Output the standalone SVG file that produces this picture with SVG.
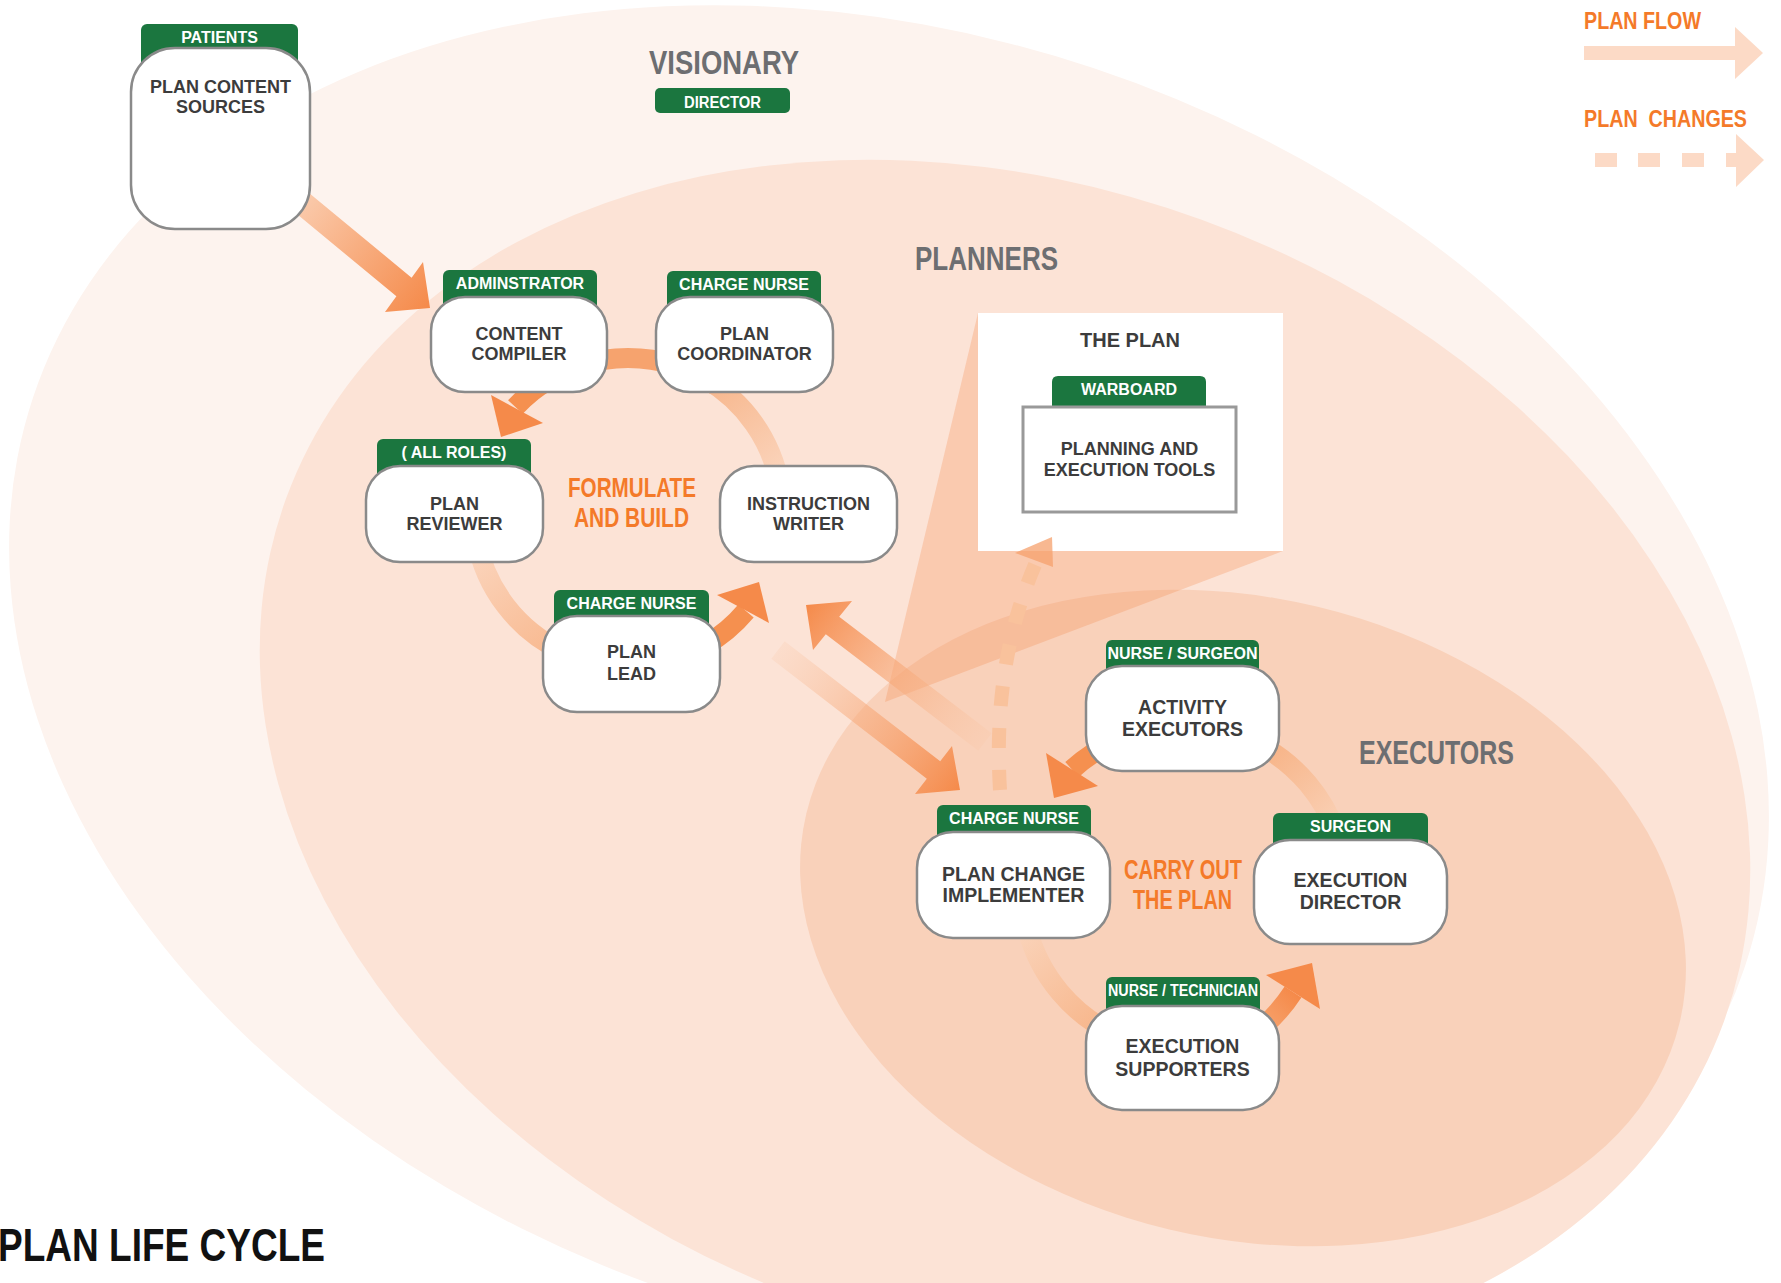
<svg xmlns="http://www.w3.org/2000/svg" width="1781" height="1283" viewBox="0 0 1781 1283">
<defs>
<style>
.tab{fill:#1b763f}
.box{fill:#fff;stroke:#8a8a8a;stroke-width:2.5}
.tt{font-family:'Liberation Sans',Arial,sans-serif;font-weight:bold;font-size:16px;fill:#fff;text-anchor:middle}
.nt{font-family:'Liberation Sans',Arial,sans-serif;font-weight:bold;font-size:18px;fill:#3c3c3c;text-anchor:middle}
.nt2{font-size:19.5px}
.hd{font-family:'Liberation Sans',Arial,sans-serif;font-weight:bold;fill:#6d6e71}
.or{font-family:'Liberation Sans',Arial,sans-serif;font-weight:bold;fill:#f47a29}
.shaft{fill:none;stroke:#f5904f;stroke-width:20}
.head{fill:#f58a4a}
.light{fill:none;stroke-width:20}
</style>
<linearGradient id="gA1" gradientUnits="userSpaceOnUse" x1="283" y1="187" x2="430" y2="308"><stop offset="0" stop-color="#fbd3b9"/><stop offset="1" stop-color="#f58a4a"/></linearGradient>
<linearGradient id="gA2" gradientUnits="userSpaceOnUse" x1="778" y1="650" x2="960" y2="790"><stop offset="0" stop-color="#f9c4a2" stop-opacity="0.2"/><stop offset="1" stop-color="#f58a4a"/></linearGradient>
<linearGradient id="gA3" gradientUnits="userSpaceOnUse" x1="985" y1="742" x2="806" y2="605"><stop offset="0" stop-color="#f9c4a2" stop-opacity="0.2"/><stop offset="1" stop-color="#f58a4a"/></linearGradient>
<linearGradient id="gL1" gradientUnits="userSpaceOnUse" x1="476" y1="539" x2="563" y2="652"><stop offset="0" stop-color="#fbd6bf"/><stop offset="1" stop-color="#f8b88e"/></linearGradient>
<linearGradient id="gL2" gradientUnits="userSpaceOnUse" x1="780" y1="485" x2="705" y2="379"><stop offset="0" stop-color="#fbd6bf"/><stop offset="1" stop-color="#f7b58a"/></linearGradient>
<linearGradient id="gL3" gradientUnits="userSpaceOnUse" x1="1027" y1="930" x2="1115" y2="1035"><stop offset="0" stop-color="#fad2b8"/><stop offset="1" stop-color="#f7b386"/></linearGradient>
<linearGradient id="gL4" gradientUnits="userSpaceOnUse" x1="1336" y1="833" x2="1265" y2="748"><stop offset="0" stop-color="#fad2b8"/><stop offset="1" stop-color="#f7b386"/></linearGradient>
<linearGradient id="gS" gradientUnits="userSpaceOnUse" x1="1252" y1="1035" x2="1293" y2="992"><stop offset="0" stop-color="#f7aa78"/><stop offset="1" stop-color="#f58a4a"/></linearGradient>
</defs>

<rect x="0" y="0" width="1781" height="1283" fill="#fff"/>

<g id="zones">
<ellipse id="visionary-zone" cx="889" cy="682" rx="902" ry="647" transform="rotate(18.4 889 682)" fill="#fdf3ee"/>
<ellipse id="planners-zone" cx="1005" cy="760" rx="765" ry="575" transform="rotate(20 1005 760)" fill="#fce3d6"/>
<ellipse id="executors-zone" cx="1243" cy="918" rx="449" ry="320" transform="rotate(13.5 1243 918)" fill="#f9d1ba"/>
<polygon id="plan-cone" points="885,702 978,313 1283,551" fill="#f58a4a" fill-opacity="0.28"/>
</g>

<g id="the-plan">
<rect x="978" y="313" width="305" height="238" fill="#fff"/>
<text x="1130" y="347" class="nt" style="font-size:20px">THE PLAN</text>
</g>

<g id="connectors">
<path d="M290.6,177.7 L411.6,277.7 L423,262 L430,308 L385,312 L396.4,296.3 L275.4,196.3 Z" fill="url(#gA1)"/>
<path d="M716.3,385.9 A154,154 0 0 0 539.7,385.9" fill="none" stroke="#f6a36e" stroke-width="20"/>
<path class="shaft" d="M551,378.6 A154,154 0 0 0 515.4,407"/>
<polygon class="head" points="491,395 543,423 501,437"/>
<path class="light" stroke="url(#gL1)" d="M476.3,538.7 A154,154 0 0 0 562.9,651.6"/>
<path class="shaft" d="M705,645.4 A154,154 0 0 0 746,611"/>
<polygon class="head" points="717,595 769,623 759,582"/>
<path class="light" stroke="url(#gL2)" d="M779.7,485.3 A154,154 0 0 0 705,378.6"/>
<path d="M784.7,641.3 L940.2,761.3 L952,746 L960,790 L915,794 L926.8,778.7 L771.3,658.7 Z" fill="url(#gA2)"/>
<path d="M991.7,733.3 L839.2,616.8 L852,601 L806,605 L813,650 L825.8,634.2 L978.3,750.7 Z" fill="url(#gA3)"/>
<path class="shaft" d="M1115.5,741.2 A162,162 0 0 0 1072,769.5"/>
<polygon class="head" points="1046,753 1098,786 1054,798"/>
<path class="light" stroke="url(#gL3)" d="M1027.5,929.9 A162,162 0 0 0 1115.5,1034.8"/>
<path d="M1252.5,1034.8 A162,162 0 0 0 1293,992" fill="none" stroke="url(#gS)" stroke-width="20"/>
<polygon class="head" points="1266,975 1320,1009 1312,963"/>
<path class="light" stroke="url(#gL4)" d="M1336.2,832.6 A162,162 0 0 0 1265,747.7"/>
<path d="M1000,790 Q992,660 1038,558" fill="none" stroke="#f9c29c" stroke-width="14" stroke-dasharray="20 22"/>
<polygon points="1015,553 1052,537 1053,567" fill="#f5a06c" fill-opacity="0.75"/>
</g>

<g id="node-plan-content-sources">
<rect class="tab" x="141" y="24" width="157" height="45" rx="6"/>
<text class="tt" x="219.5" y="42.5">PATIENTS</text>
<rect class="box" x="131" y="48" width="179" height="181" rx="44"/>
<text class="nt" x="220.5" y="93">PLAN CONTENT</text>
<text class="nt" x="220.5" y="113">SOURCES</text>
</g>

<g id="node-content-compiler">
<rect class="tab" x="443" y="270" width="154" height="45" rx="6"/>
<text class="tt" x="520" y="288.5">ADMINSTRATOR</text>
<rect class="box" x="431" y="297" width="176" height="95" rx="34"/>
<text class="nt" x="519" y="340">CONTENT</text>
<text class="nt" x="519" y="360">COMPILER</text>
</g>

<g id="node-plan-coordinator">
<rect class="tab" x="667" y="271" width="154" height="45" rx="6"/>
<text class="tt" x="744" y="289.5">CHARGE NURSE</text>
<rect class="box" x="656" y="297" width="177" height="95" rx="34"/>
<text class="nt" x="744.5" y="340">PLAN</text>
<text class="nt" x="744.5" y="360">COORDINATOR</text>
</g>

<g id="node-plan-reviewer">
<rect class="tab" x="377" y="439" width="154" height="45" rx="6"/>
<text class="tt" x="454" y="457.5">( ALL ROLES)</text>
<rect class="box" x="366" y="466" width="177" height="96" rx="34"/>
<text class="nt" x="454.5" y="510">PLAN</text>
<text class="nt" x="454.5" y="530">REVIEWER</text>
</g>

<g id="node-instruction-writer">
<rect class="box" x="720" y="466" width="177" height="96" rx="34"/>
<text class="nt" x="808.5" y="510">INSTRUCTION</text>
<text class="nt" x="808.5" y="530">WRITER</text>
</g>

<g id="node-plan-lead">
<rect class="tab" x="554" y="590" width="155" height="45" rx="6"/>
<text class="tt" x="631.5" y="608.5">CHARGE NURSE</text>
<rect class="box" x="543" y="616" width="177" height="96" rx="34"/>
<text class="nt" x="631.5" y="658">PLAN</text>
<text class="nt" x="631.5" y="680">LEAD</text>
</g>

<g id="node-planning-tools">
<path class="tab" d="M1052,407 V382 Q1052,376 1058,376 H1200 Q1206,376 1206,382 V407 Z"/>
<text class="tt" x="1129" y="394.5">WARBOARD</text>
<rect x="1023" y="407" width="213" height="105" fill="#fff" stroke="#999" stroke-width="3"/>
<text class="nt" x="1129.5" y="455">PLANNING AND</text>
<text class="nt" x="1129.5" y="476">EXECUTION TOOLS</text>
</g>

<g id="node-activity-executors">
<rect class="tab" x="1106" y="640" width="153" height="45" rx="6"/>
<text class="tt" x="1182.5" y="658.5">NURSE / SURGEON</text>
<rect class="box" x="1086" y="666" width="193" height="105" rx="36"/>
<text class="nt nt2" x="1182.5" y="714">ACTIVITY</text>
<text class="nt nt2" x="1182.5" y="736">EXECUTORS</text>
</g>

<g id="node-plan-change-implementer">
<rect class="tab" x="937" y="805" width="154" height="45" rx="6"/>
<text class="tt" x="1014" y="823.5">CHARGE NURSE</text>
<rect class="box" x="917" y="832" width="193" height="106" rx="36"/>
<text class="nt nt2" x="1013.5" y="881">PLAN CHANGE</text>
<text class="nt nt2" x="1013.5" y="902">IMPLEMENTER</text>
</g>

<g id="node-execution-director">
<rect class="tab" x="1273" y="813" width="155" height="45" rx="6"/>
<text class="tt" x="1350.5" y="831.5">SURGEON</text>
<rect class="box" x="1254" y="840" width="193" height="104" rx="36"/>
<text class="nt nt2" x="1350.5" y="887">EXECUTION</text>
<text class="nt nt2" x="1350.5" y="909">DIRECTOR</text>
</g>

<g id="node-execution-supporters">
<rect class="tab" x="1106" y="977" width="154" height="45" rx="6"/>
<text class="tt" x="1183" y="995.5" textLength="150" lengthAdjust="spacingAndGlyphs">NURSE / TECHNICIAN</text>
<rect class="box" x="1086" y="1006" width="193" height="104" rx="36"/>
<text class="nt nt2" x="1182.5" y="1053">EXECUTION</text>
<text class="nt nt2" x="1182.5" y="1076">SUPPORTERS</text>
</g>

<g id="labels">
<text class="hd" x="649" y="74" font-size="33" textLength="150" lengthAdjust="spacingAndGlyphs">VISIONARY</text>
<rect class="tab" x="655" y="88" width="135" height="25" rx="5"/>
<text class="tt" x="684" y="107.5" style="text-anchor:start" textLength="77" lengthAdjust="spacingAndGlyphs">DIRECTOR</text>
<text class="hd" x="915" y="270" font-size="33" textLength="143" lengthAdjust="spacingAndGlyphs">PLANNERS</text>
<text class="hd" x="1359" y="764" font-size="33" textLength="155" lengthAdjust="spacingAndGlyphs">EXECUTORS</text>
<text class="or" x="568" y="497" font-size="28" textLength="128" lengthAdjust="spacingAndGlyphs">FORMULATE</text>
<text class="or" x="574" y="527" font-size="28" textLength="115" lengthAdjust="spacingAndGlyphs">AND BUILD</text>
<text class="or" x="1124" y="879" font-size="27" textLength="118" lengthAdjust="spacingAndGlyphs">CARRY OUT</text>
<text class="or" x="1133" y="909" font-size="27" textLength="99" lengthAdjust="spacingAndGlyphs">THE PLAN</text>
<text x="-2" y="1261" font-family="'Liberation Sans',Arial,sans-serif" font-weight="bold" font-size="47" fill="#111" textLength="327" lengthAdjust="spacingAndGlyphs">PLAN LIFE CYCLE</text>
</g>

<g id="legend">
<text class="or" x="1584" y="29" font-size="24" textLength="117" lengthAdjust="spacingAndGlyphs">PLAN FLOW</text>
<path d="M1584,46 H1735 V27 L1763,53 L1735,79 V60 H1584 Z" fill="#fcdac6"/>
<text class="or" x="1584" y="127" font-size="24" textLength="163" lengthAdjust="spacingAndGlyphs" xml:space="preserve">PLAN  CHANGES</text>
<rect x="1595" y="153" width="22" height="14" fill="#fcdac6"/>
<rect x="1638" y="153" width="22" height="14" fill="#fcdac6"/>
<rect x="1682" y="153" width="22" height="14" fill="#fcdac6"/>
<path d="M1726,153 H1736 V134 L1764,160 L1736,187 V167 H1726 Z" fill="#fcdac6"/>
</g>
</svg>
